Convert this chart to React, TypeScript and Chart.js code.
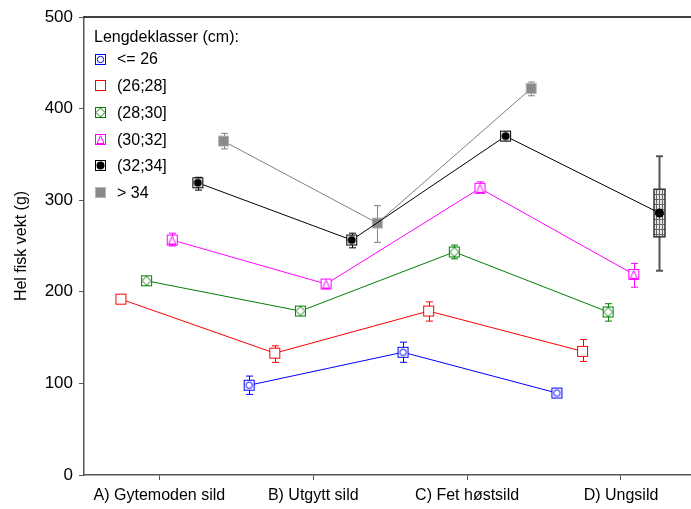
import { useEffect, useRef } from 'react';
import { Chart, registerables, ChartConfiguration, Plugin } from 'chart.js';

Chart.register(...registerables);

const categories = ['A) Gytemoden sild', 'B) Utgytt sild', 'C) Fet høstsild', 'D) Ungsild'];
const sizeClasses = ['<= 26', '(26;28]', '(28;30]', '(30;32]', '(32;34]', '> 34'];
const legendTitle = 'Lengdeklasser (cm):';
const yTitle = 'Hel fisk vekt (g)';

// mean weight per length class, one value per category (null = no fish)
const weightLe26 = [null, 98, 134, 89.5];
const weight26to28 = [192, 133, 179, 135];
const weight28to30 = [212, 179, 243.5, 178];
const weight30to32 = [256.5, 208.5, 313, 219];
const weight32to34 = [319, 256.5, 370, 286];
const weightGt34 = [364.5, 275, 422, null];

// whisker ends
const lowLe26 = [null, 88, 123, 88];
const highLe26 = [null, 108, 145, 91];
const low26to28 = [192, 123, 168, 124];
const high26to28 = [192, 141, 189, 148];
const low28to30 = [210, 176, 236, 168];
const high28to30 = [214, 182, 251, 187];
const low30to32 = [250, 206, 308, 205];
const high30to32 = [264, 211, 320, 231];
const low32to34 = [311, 248, 365, 223];
const high32to34 = [325, 264, 375, 348];
const lowGt34 = [356, 254, 414, null];
const highGt34 = [373, 294, 429, null];

// the one real box (32;34] in D) Ungsild
const box32to34Low = [null, null, null, 260];
const box32to34High = [null, null, null, 312];

const seriesValues = [weightLe26, weight26to28, weight28to30, weight30to32, weight32to34, weightGt34];
const seriesLow = [lowLe26, low26to28, low28to30, low30to32, low32to34, lowGt34];
const seriesHigh = [highLe26, high26to28, high28to30, high30to32, high32to34, highGt34];

const colors = ['#0000ff', '#ff0000', '#008000', '#ff00ff', '#000000', '#808080'];
const markerKinds = ['circle', 'square', 'diamond', 'triangle', 'dot', 'filled'];

const FONT = '"Liberation Sans", Arial, sans-serif';

const dodge = (i: number) => (i - 2.5) / 6;

function makeMarker(kind: string, color: string) {
  const c = document.createElement('canvas');
  c.width = 13;
  c.height = 13;
  const g = c.getContext('2d')!;
  g.lineWidth = 1;
  if (kind === 'filled') {
    g.fillStyle = '#8a8a8a';
    g.fillRect(1, 1, 11, 11);
    g.strokeStyle = '#b5b5b5';
    g.strokeRect(1.5, 1.5, 10, 10);
    return c;
  }
  g.fillStyle = '#ffffff';
  g.fillRect(1.5, 1.5, 10, 10);
  g.strokeStyle = color;
  g.strokeRect(1.5, 1.5, 10, 10);
  g.beginPath();
  if (kind === 'circle') {
    g.arc(6.5, 6.5, 3.2, 0, Math.PI * 2);
    g.stroke();
  } else if (kind === 'diamond') {
    g.moveTo(6.5, 2);
    g.lineTo(11, 6.5);
    g.lineTo(6.5, 11);
    g.lineTo(2, 6.5);
    g.closePath();
    g.stroke();
  } else if (kind === 'triangle') {
    g.moveTo(6.5, 2.5);
    g.lineTo(10, 10.5);
    g.lineTo(3, 10.5);
    g.closePath();
    g.stroke();
  } else if (kind === 'dot') {
    g.fillStyle = color;
    g.arc(6.5, 6.5, 4, 0, Math.PI * 2);
    g.fill();
  }
  return c;
}

export default function App() {
  const canvasRef = useRef<HTMLCanvasElement>(null);
  const chartRef = useRef<Chart | null>(null);

  useEffect(() => {
    if (!canvasRef.current) return;

    const markers = markerKinds.map((k, i) => makeMarker(k, colors[i]));

    const errorBars: Plugin = {
      id: 'errorBars',
      beforeDatasetsDraw(chart) {
        const { ctx } = chart;
        const xs = chart.scales.x;
        const ys = chart.scales.y;
        ctx.save();
        seriesValues.forEach((vals, s) => {
          vals.forEach((v, j) => {
            const lo = seriesLow[s][j];
            const hi = seriesHigh[s][j];
            if (v == null || lo == null || hi == null || hi <= lo) return;
            const x = Math.round(xs.getPixelForValue(j + dodge(s))) + 0.5;
            const yLo = ys.getPixelForValue(lo);
            const yHi = ys.getPixelForValue(hi);
            const isBox = box32to34Low[j] != null && s === 4;
            ctx.strokeStyle = isBox ? '#555555' : colors[s];
            ctx.lineWidth = isBox ? 2 : 1;
            ctx.beginPath();
            ctx.moveTo(x, yLo);
            ctx.lineTo(x, yHi);
            ctx.moveTo(x - 3.5, yLo);
            ctx.lineTo(x + 3.5, yLo);
            ctx.moveTo(x - 3.5, yHi);
            ctx.lineTo(x + 3.5, yHi);
            ctx.stroke();
            if (isBox) {
              const bTop = ys.getPixelForValue(box32to34High[j]!);
              const bBot = ys.getPixelForValue(box32to34Low[j]!);
              const w = 11;
              const left = x - w / 2;
              ctx.fillStyle = '#e6e6e6';
              ctx.fillRect(left, bTop, w, bBot - bTop);
              ctx.strokeStyle = '#666666';
              ctx.lineWidth = 1;
              ctx.beginPath();
              for (let yy = bTop + 5; yy < bBot - 1; yy += 5) {
                ctx.moveTo(left, Math.round(yy) + 0.5);
                ctx.lineTo(left + w, Math.round(yy) + 0.5);
              }
              ctx.moveTo(x, bTop);
              ctx.lineTo(x, bBot);
              ctx.moveTo(left + 2.5, bTop);
              ctx.lineTo(left + 2.5, bBot);
              ctx.moveTo(left + w - 2.5, bTop);
              ctx.lineTo(left + w - 2.5, bBot);
              ctx.stroke();
              ctx.strokeStyle = '#333333';
              ctx.lineWidth = 1.5;
              ctx.strokeRect(left, bTop, w, bBot - bTop);
            }
          });
        });
        ctx.beginPath();
        ctx.restore();
      },
    };

    const frameAndLegend: Plugin = {
      id: 'frameAndLegend',
      afterDraw(chart) {
        const { ctx, chartArea } = chart;
        ctx.save();
        // keep the strip at the cut-off right edge empty (the original has no right frame)
        ctx.fillStyle = '#ffffff';
        ctx.fillRect(chartArea.right - 16, chartArea.top + 1, 16, chartArea.bottom - chartArea.top - 2);

        // top frame line
        ctx.strokeStyle = '#000000';
        ctx.lineWidth = 1.5;
        ctx.beginPath();
        ctx.moveTo(chartArea.left, chartArea.top);
        ctx.lineTo(chart.width, chartArea.top);
        ctx.stroke();
        ctx.beginPath();

        // legend inside the plot
        ctx.fillStyle = '#000000';
        ctx.font = `16px ${FONT}`;
        ctx.textBaseline = 'middle';
        ctx.textAlign = 'left';
        ctx.fillText(legendTitle, chartArea.left + 10, chartArea.top + 21);
        sizeClasses.forEach((label, i) => {
          const y = chartArea.top + 42 + i * 26.7;
          ctx.drawImage(markers[i], chartArea.left + 10, Math.round(y - 6.5));
          ctx.fillText(label, chartArea.left + 33, y + 1);
        });
        ctx.restore();
      },
    };

    const config: ChartConfiguration<'line'> = {
      type: 'line',
      data: {
        datasets: seriesValues.map((vals, s) => ({
          label: sizeClasses[s],
          data: vals
            .map((v, j) => (v == null ? null : { x: j + dodge(s), y: v }))
            .filter((p): p is { x: number; y: number } => p !== null),
          borderColor: colors[s],
          borderWidth: 1,
          backgroundColor: colors[s],
          fill: false,
          tension: 0,
          pointStyle: (ctx: any) =>
            s === 4 && box32to34Low[Math.round(ctx.raw?.x ?? 0)] != null ? 'circle' : markers[s],
          pointRadius: 4.5,
          pointBorderWidth: 0,
        })),
      },
      options: {
        responsive: true,
        maintainAspectRatio: false,
        animation: false,
        layout: { autoPadding: false, padding: { top: 17, left: 0, right: 0, bottom: 0 } },
        plugins: {
          legend: { display: false },
          tooltip: { enabled: false },
        },
        scales: {
          x: {
            type: 'linear',
            min: -0.49,
            max: 3.507,
            afterBuildTicks: (scale) => {
              scale.ticks = categories.map((_, i) => ({ value: i }));
            },
            afterFit: (scale) => {
              scale.height = 34;
            },
            ticks: {
              autoSkip: false,
              maxRotation: 0,
              padding: 6,
              color: '#000000',
              font: { family: FONT, size: 16 },
              callback: (v) => categories[Number(v)] ?? '',
            },
            grid: { drawOnChartArea: false, drawTicks: true, tickLength: 5, color: '#555555' },
            border: { display: true, color: '#555555', width: 1.5 },
          },
          y: {
            min: 0,
            max: 500,
            afterFit: (scale) => {
              scale.width = 84;
            },
            ticks: {
              stepSize: 100,
              padding: 6,
              color: '#000000',
              font: { family: FONT, size: 17 },
            },
            grid: { drawOnChartArea: false, drawTicks: true, tickLength: 5, color: '#555555' },
            border: { display: true, color: '#555555', width: 1.5 },
            title: {
              display: true,
              text: yTitle,
              color: '#000000',
              font: { family: FONT, size: 16 },
              padding: { top: 12, bottom: 0 },
            },
          },
        },
      },
      plugins: [errorBars, frameAndLegend],
    };

    if (chartRef.current) chartRef.current.destroy();
    chartRef.current = new Chart(canvasRef.current, config);

    return () => {
      if (chartRef.current) {
        chartRef.current.destroy();
        chartRef.current = null;
      }
    };
  }, []);

  // the plot runs a little past the right edge of the picture, as in the original
  return (
    <div style={{ position: 'absolute', left: 0, top: 0, width: 691, height: 509, overflow: 'hidden', background: '#fff' }}>
      <div style={{ position: 'relative', width: 699, height: 509 }}>
        <canvas ref={canvasRef} />
      </div>
    </div>
  );
}
